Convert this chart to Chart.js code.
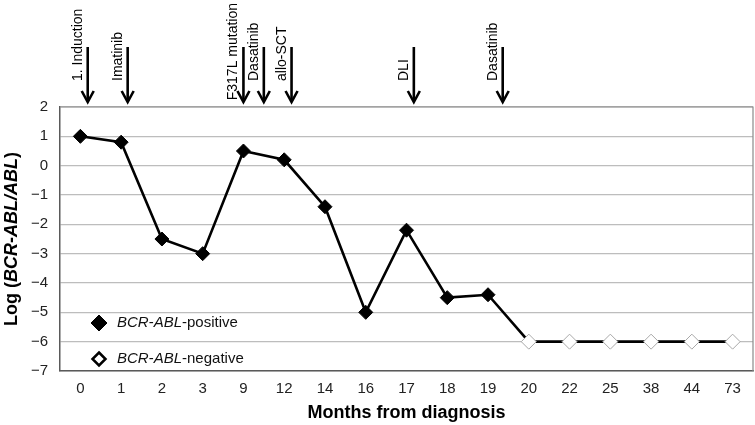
<!DOCTYPE html>
<html>
<head>
<meta charset="utf-8">
<script src="https://cdn.jsdelivr.net/npm/chart.js@4/dist/chart.umd.min.js"></script>
<style>
  html, body { margin: 0; padding: 0; background: #fff; overflow: hidden; }
  canvas { display: block; }
</style>
</head>
<body>
<canvas id="c" width="755" height="425"></canvas>
<script>
const months = ['0', '1', '2', '3', '9', '12', '14', '16', '17', '18', '19', '20', '22', '25', '38', '44', '73'];
const logRatio = [1, 0.8, -2.5, -3, 0.5, 0.2, -1.4, -5, -2.2, -4.5, -4.4, -6, -6, -6, -6, -6, -6];
const positive = [true, true, true, true, true, true, true, true, true, true, true, false, false, false, false, false, false];
const yTicks = [2, 1, 0, -1, -2, -3, -4, -5, -6, -7];

// treatment events, placed in category units along the x axis
const eventLabels = ['1. Induction', 'Imatinib', 'F317L mutation', 'Dasatinib', 'allo-SCT', 'DLI', 'Dasatinib'];
const eventAt = [0.18, 1.16, 4.0, 4.5, 5.18, 8.18, 10.36];

const FONT = '"Liberation Sans", Arial, sans-serif';

// draws a run of [text, font] pieces, one after the other
function drawRuns(ctx, runs, x, y) {
  let cx = x;
  runs.forEach(([t, f]) => {
    ctx.font = f;
    ctx.fillText(t, cx, y);
    cx += ctx.measureText(t).width;
  });
}
function runsWidth(ctx, runs) {
  let w = 0;
  runs.forEach(([t, f]) => { ctx.font = f; w += ctx.measureText(t).width; });
  return w;
}

function diamond(ctx, x, y, r, fill, stroke, lw) {
  ctx.beginPath();
  ctx.moveTo(x, y - r);
  ctx.lineTo(x + r, y);
  ctx.lineTo(x, y + r);
  ctx.lineTo(x - r, y);
  ctx.closePath();
  ctx.fillStyle = fill;
  ctx.fill();
  ctx.lineWidth = lw;
  ctx.strokeStyle = stroke;
  ctx.stroke();
}

const extras = {
  id: 'extras',
  beforeDatasetsDraw(chart) {
    const { ctx, chartArea: a } = chart;
    ctx.save();
    ctx.strokeStyle = '#8a8a8a';
    ctx.lineWidth = 1.2;
    ctx.beginPath();
    ctx.moveTo(a.left, a.top);
    ctx.lineTo(a.right, a.top);
    ctx.lineTo(a.right, a.bottom);
    ctx.stroke();
    ctx.restore();
  },
  afterDraw(chart) {
    const { ctx, chartArea: a, scales } = chart;
    ctx.save();

    // arrows + event labels
    eventLabels.forEach((label, i) => {
      const x = scales.x.getPixelForValue(eventAt[i]);
      const tip = a.top - 5;
      ctx.strokeStyle = '#000';
      ctx.lineWidth = 2.6;
      ctx.beginPath();
      ctx.moveTo(x, a.top - 60);
      ctx.lineTo(x, tip - 1);
      ctx.stroke();
      ctx.beginPath();
      ctx.moveTo(x - 6, tip - 11);
      ctx.lineTo(x, tip);
      ctx.lineTo(x + 6, tip - 11);
      ctx.stroke();

      ctx.font = '14px ' + FONT;
      const w = ctx.measureText(label).width;
      const base = Math.max(a.top - 26, w + 3);
      ctx.save();
      ctx.translate(x - 6, base);
      ctx.rotate(-Math.PI / 2);
      ctx.fillStyle = '#000';
      ctx.textAlign = 'left';
      ctx.textBaseline = 'alphabetic';
      ctx.fillText(label, 0, 0);
      ctx.restore();
    });

    // legend inside the plot
    const lx = a.left + 39;
    const rows = [
      { y: a.bottom - 48, fill: '#000', word: '-positive' },
      { y: a.bottom - 12, fill: '#fff', word: '-negative' }
    ];
    rows.forEach(r => {
      diamond(ctx, lx, r.y, r.fill === '#000' ? 8 : 6.5, r.fill, '#000', r.fill === '#000' ? 1 : 2.5);
      ctx.fillStyle = '#111';
      ctx.textBaseline = 'middle';
      ctx.textAlign = 'left';
      drawRuns(ctx, [
        ['BCR', 'italic 15px ' + FONT],
        ['-', '15px ' + FONT],
        ['ABL', 'italic 15px ' + FONT],
        [r.word, '15px ' + FONT]
      ], a.left + 57, r.y);
    });

    // axis titles
    ctx.fillStyle = '#000';
    ctx.textBaseline = 'middle';
    ctx.textAlign = 'left';
    const xt = [['Months from diagnosis', 'bold 18px ' + FONT]];
    drawRuns(ctx, xt, (a.left + a.right) / 2 - runsWidth(ctx, xt) / 2, 413);

    const yt = [
      ['Log (', 'bold 18px ' + FONT],
      ['BCR', 'italic bold 18px ' + FONT],
      ['-', 'bold 18px ' + FONT],
      ['ABL/ABL', 'italic bold 18px ' + FONT],
      [')', 'bold 18px ' + FONT]
    ];
    ctx.save();
    ctx.translate(12, (a.top + a.bottom) / 2);
    ctx.rotate(-Math.PI / 2);
    drawRuns(ctx, yt, -runsWidth(ctx, yt) / 2, 0);
    ctx.restore();

    ctx.restore();
  }
};

new Chart(document.getElementById('c'), {
  type: 'line',
  data: {
    labels: months,
    datasets: [{
      data: logRatio,
      borderColor: '#000',
      borderWidth: 2.6,
      tension: 0,
      clip: false,
      pointStyle: 'rectRot',
      pointRadius: ctx => positive[ctx.dataIndex] ? 7 : 7.5,
      pointBackgroundColor: ctx => positive[ctx.dataIndex] ? '#000' : '#fff',
      pointBorderColor: ctx => positive[ctx.dataIndex] ? '#000' : '#a8a8a8',
      pointBorderWidth: 1
    }]
  },
  options: {
    responsive: false,
    animation: false,
    layout: { autoPadding: false, padding: { top: 107, right: 2, left: 0, bottom: 0 } },
    plugins: {
      legend: { display: false },
      tooltip: { enabled: false }
    },
    scales: {
      x: {
        offset: true,
        grid: { display: false, drawTicks: false },
        border: { display: true, color: '#5a5a5a', width: 1.5 },
        ticks: { color: '#222', font: { family: FONT, size: 15 }, padding: 9, maxRotation: 0, autoSkip: false },
        afterFit: s => { s.height = 54; s.paddingLeft = 0; s.paddingRight = 0; }
      },
      y: {
        min: Math.min(...yTicks),
        max: Math.max(...yTicks),
        grid: { color: '#bdbdbd', lineWidth: 1.3, drawTicks: false },
        border: { display: true, color: '#5a5a5a', width: 1.5 },
        ticks: {
          stepSize: 1,
          color: '#222',
          font: { family: FONT, size: 15 },
          padding: 12,
          callback: v => String(v).replace('-', '\u2212')
        },
        afterFit: s => { s.width = 60; s.paddingTop = 0; s.paddingBottom = 0; }
      }
    }
  },
  plugins: [extras]
});
</script>
</body>
</html>
